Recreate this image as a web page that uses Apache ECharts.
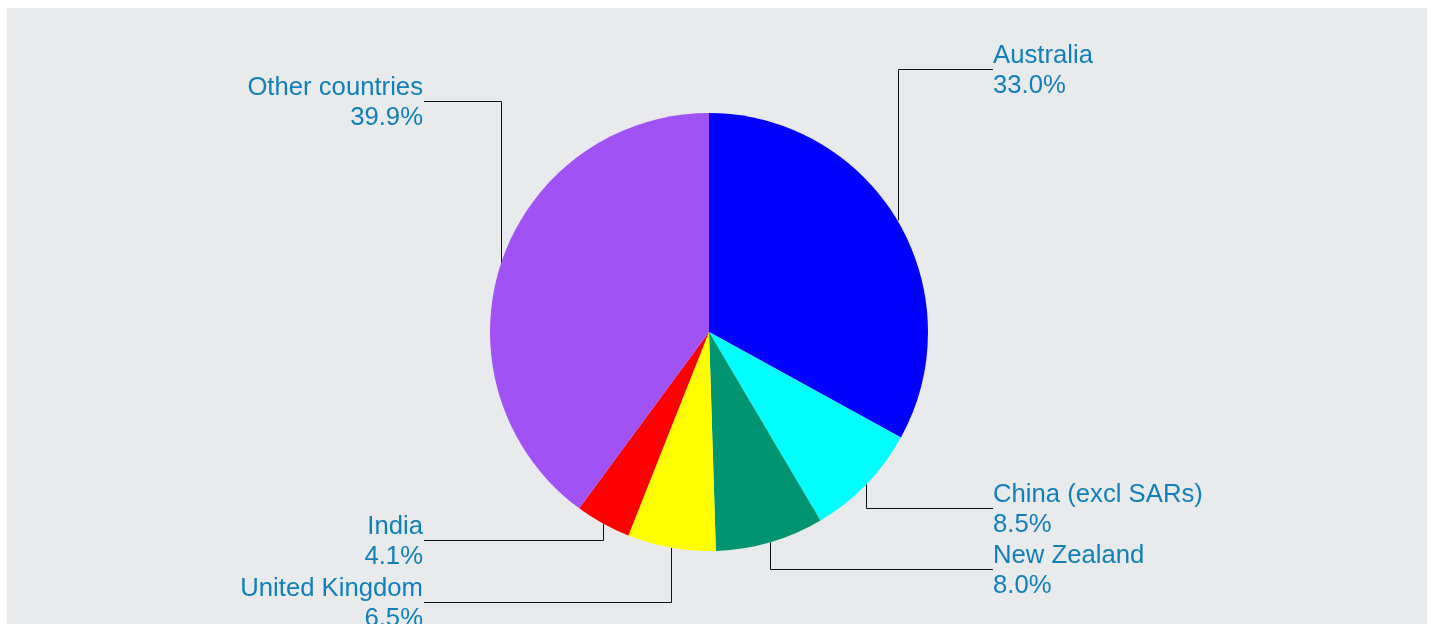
<!DOCTYPE html>
<html>
<head>
<meta charset="utf-8">
<script src="https://cdn.jsdelivr.net/npm/echarts@6/dist/echarts.min.js"></script>
<style>
html,body{margin:0;padding:0;background:#ffffff;}
#chart{width:1431px;height:624px;}
</style>
</head>
<body>
<div id="chart"></div>
<script>
// Data
const categories = ['Australia', 'China (excl SARs)', 'New Zealand', 'United Kingdom', 'India', 'Other countries'];
const shares = [33.0, 8.5, 8.0, 6.5, 4.1, 39.9];

// Styling / layout
const sliceColors = ['#0000ff', '#00ffff', '#009470', '#ffff00', '#ff0000', '#a052f5'];
const labelAnchors = [[993, 69], [993, 508], [993, 569], [423, 602], [423, 540], [423, 101]];
const CX = 709, CY = 332, R = 219;
const TEXT_SHIFT = 2;

const chart = echarts.init(document.getElementById('chart'), null, {renderer: 'canvas'});

const total = shares.reduce((a, b) => a + b, 0);
function edgePoint(i) {
  let before = 0;
  for (let k = 0; k < i; k++) before += shares[k];
  const mid = (before + shares[i] / 2) / total * Math.PI * 2;
  return [CX + R * Math.sin(mid), CY - R * Math.cos(mid)];
}

chart.setOption({
  animation: false,
  backgroundColor: 'transparent',
  graphic: [{
    type: 'rect',
    z: -10,
    shape: {x: 7, y: 8, width: 1420, height: 640},
    style: {fill: '#e9eaec'}
  }],
  series: [{
    type: 'pie',
    center: [CX, CY],
    radius: [0, R],
    startAngle: 90,
    clockwise: true,
    emphasis: {disabled: true},
    silent: true,
    data: categories.map((c, i) => ({name: c, value: shares[i], itemStyle: {color: sliceColors[i]}})),
    itemStyle: {borderWidth: 0},
    label: {
      show: true,
      position: 'outside',
      formatter: p => p.name + '\n' + p.value.toFixed(1) + '%',
      color: '#1180b8',
      fontFamily: 'Liberation Sans, Arial, sans-serif',
      fontSize: 25.7,
      lineHeight: 30
    },
    labelLine: {
      show: true,
      length: 10,
      length2: 10,
      lineStyle: {color: '#111111', width: 1}
    },
    labelLayout: function (params) {
      const i = params.dataIndex;
      const ax = labelAnchors[i][0], ay = labelAnchors[i][1];
      const right = ax > CX;
      const p0 = (params.labelLinePoints && params.labelLinePoints[0]) ? params.labelLinePoints[0] : edgePoint(i);
      const lx = Math.round(p0[0]) + 0.5;
      const ly = ay + 0.5;
      return {
        x: ax,
        y: ay + TEXT_SHIFT,
        align: right ? 'left' : 'right',
        verticalAlign: 'middle',
        labelLinePoints: [[lx, p0[1]], [lx, ly], [right ? ax : ax + 1, ly]]
      };
    }
  }]
});
</script>
</body>
</html>
